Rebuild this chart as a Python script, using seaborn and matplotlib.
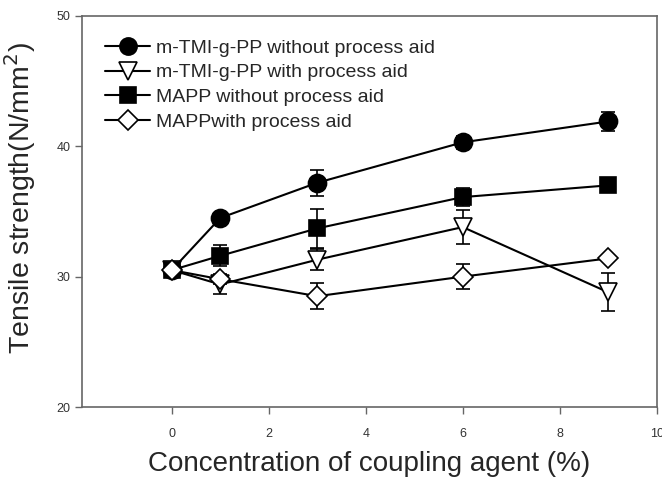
import numpy as np
import pandas as pd
import matplotlib
matplotlib.use("Agg")
import matplotlib.pyplot as plt
import seaborn as sns

conc = [0, 1, 3, 6, 9]
series_names = ["m-TMI-g-PP without process aid", "m-TMI-g-PP with process aid",
                "MAPP without process aid", "MAPPwith process aid"]
tmi_without = [30.5, 34.5, 37.2, 40.3, 41.9]
tmi_without_err = [0.2, 0.3, 1.0, 0.5, 0.7]
tmi_with = [30.5, 29.4, 31.3, 33.8, 28.8]
tmi_with_err = [0.2, 0.7, 0.8, 1.3, 1.45]
mapp_without = [30.5, 31.6, 33.7, 36.1, 37.0]
mapp_without_err = [0.2, 0.8, 1.5, 0.7, 0.3]
mapp_with = [30.5, 29.8, 28.5, 30.0, 31.4]
mapp_with_err = [0.2, 0.4, 1.0, 0.95, 0.2]

sns.set_theme(style="white")
plt.rcParams['font.family'] = ['Liberation Sans', 'DejaVu Sans']

fig = plt.figure(figsize=(6.62, 4.8), dpi=100)
ax = fig.add_axes([0.124, 0.152, 0.868, 0.815])

styles = [
    (tmi_without, tmi_without_err, 'o', 'black', 13),
    (tmi_with, tmi_with_err, 'v', 'white', 13),
    (mapp_without, mapp_without_err, 's', 'black', 11.5),
    (mapp_with, mapp_with_err, 'D', 'white', 10.5),
]
for name, (vals, errs, mk, fc, ms) in zip(series_names, styles):
    ax.errorbar(conc, vals, yerr=errs, fmt='none', ecolor='black', elinewidth=1.2,
                capsize=5, capthick=1.2, zorder=2)
    sns.lineplot(x=conc, y=vals, ax=ax, color='black', linewidth=1.5, marker=mk,
                 markersize=ms, markerfacecolor=fc, markeredgecolor='black',
                 markeredgewidth=1.2, label=name, zorder=3)

ax.set_xlim(-1.85, 10)
ax.set_ylim(20, 50)
ax.set_xticks([0, 2, 4, 6, 8, 10])
ax.set_yticks([20, 30, 40, 50])
for s in ax.spines.values():
    s.set_color('#666666')
    s.set_linewidth(1.2)
ax.tick_params(axis='both', direction='out', length=5, width=1, color='#666666',
               labelsize=9, labelcolor='#333333', bottom=True, left=True)
ax.tick_params(axis='x', pad=10)
ax.set_xlabel("Concentration of coupling agent (%)", fontsize=20)
ax.xaxis.set_label_coords(0.5, -0.113)
ax.set_ylabel("Tensile strength(N/mm$^2$)", fontsize=20.5)
ax.yaxis.set_label_coords(-0.077, 0.535)

leg = ax.legend(loc='upper left', frameon=False, fontsize=14, handlelength=2.3,
                handletextpad=0.3, labelspacing=0.36, borderaxespad=0.5,
                markerscale=0.95, bbox_to_anchor=(0.01, 0.985))

fig.savefig("out.png", dpi=100)
